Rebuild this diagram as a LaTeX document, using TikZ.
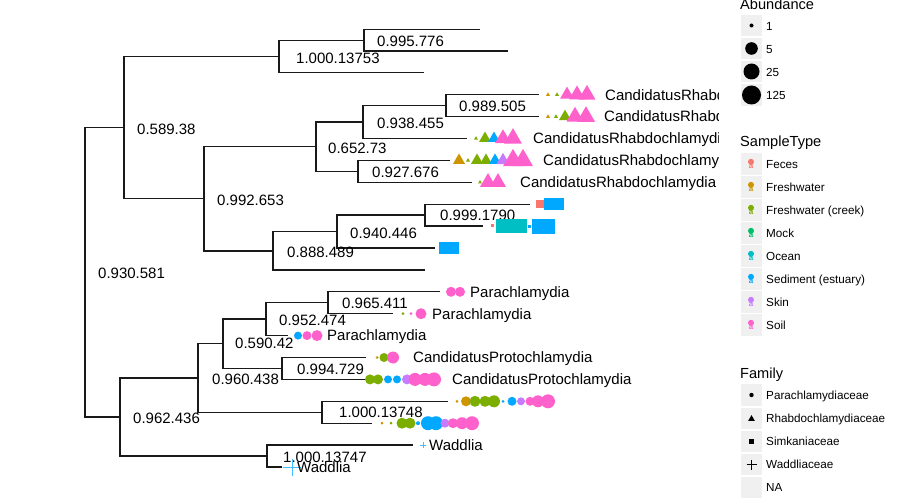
\documentclass[tikz,border=0pt]{standalone}
\usepackage{fontspec}
\setmainfont{Liberation Sans}
\definecolor{cFec}{HTML}{F8766D}
\definecolor{cFre}{HTML}{CD9600}
\definecolor{cCre}{HTML}{7CAE00}
\definecolor{cMoc}{HTML}{00BE67}
\definecolor{cOce}{HTML}{00BFC4}
\definecolor{cSed}{HTML}{00A9FF}
\definecolor{cSki}{HTML}{C77CFF}
\definecolor{cSoi}{HTML}{FF61CC}
\definecolor{keygrey}{HTML}{F0F0F0}
\newcommand\cpt[4]{\fill[#4] (#1,#2) circle[radius=#3];}
\newcommand\tpt[4]{\fill[#4] ({#1-#3},{#2+0.577*#3}) -- ({#1+#3},{#2+0.577*#3}) -- (#1,{#2-1.155*#3}) -- cycle;}
\newcommand\spt[4]{\fill[#4] ({#1-#3},{#2-#3}) rectangle ({#1+#3},{#2+#3});}
\newcommand\skey[2]{\fill[keygrey] (741,{#1-11}) rectangle (762,{#1+11});
  \fill[#2] (751,{#1-2.2}) circle[radius=3];
  \node[text=#2, inner sep=0pt, font=\fontsize{8}{8}\selectfont\bfseries] at (751,{#1+2}) {a};}
\begin{document}
\begin{tikzpicture}[x=1pt,y=-1pt,
  edge/.style={line width=1.3pt, black!90},
  blab/.style={anchor=west, inner sep=0pt, font=\fontsize{15}{18}\selectfont, text height=10.7pt, text depth=0pt},
  tlab/.style={blab},
  ltitle/.style={anchor=base west, inner sep=0pt, font=\fontsize{14.6}{17}\selectfont},
  ltext/.style={anchor=west, inner sep=0pt, font=\fontsize{11.7}{14}\selectfont, text height=8.4pt, text depth=0pt},
  keybox/.style={fill=keygrey},
  cross/.style={line width=0.9pt, cSed!75}
]
\useasboundingbox (0,0) rectangle (900,500);
\fill[white] (0,0) rectangle (900,500);

% ---------- tree nodes ----------
\coordinate (R) at (85,272);
\coordinate (A) at (124,127.5);
\coordinate (T) at (279,56.5);
\coordinate (T1) at (364,40.5);
\coordinate (t1) at (480,29.5);
\coordinate (t2) at (508,50.9);
\coordinate (t3) at (424,72.8);
\coordinate (B) at (204,198.5);
\coordinate (C) at (316,146.5);
\coordinate (D) at (363,122);
\coordinate (E) at (446,105.6);
\coordinate (r1) at (539,94.7);
\coordinate (r2) at (539,116.6);
\coordinate (r3) at (467,138.5);
\coordinate (F) at (358,171.3);
\coordinate (r4) at (450,160.4);
\coordinate (r5) at (472,182.3);
\coordinate (G) at (273,251);
\coordinate (H) at (337,231.6);
\coordinate (I) at (425,215.1);
\coordinate (s1) at (530,204.2);
\coordinate (s2) at (483,226.1);
\coordinate (s3) at (435,248);
\coordinate (s4) at (425,269.9);
\coordinate (J) at (120,417);
\coordinate (K) at (198,378);
\coordinate (L) at (223,343.5);
\coordinate (M) at (266,319);
\coordinate (N) at (328,302.7);
\coordinate (p1) at (440,291.8);
\coordinate (p2) at (393,313.7);
\coordinate (p3) at (288,335.6);
\coordinate (O) at (282,368.4);
\coordinate (q1) at (366,357.5);
\coordinate (q2) at (366,379.4);
\coordinate (P) at (322,412.3);
\coordinate (u1) at (448,401.3);
\coordinate (u2) at (372,423.2);
\coordinate (Q) at (267,456);
\coordinate (w1) at (413,445.1);
\coordinate (w2) at (282,467);

\begin{scope}
\clip (0,0) rectangle (718,500);
% ---------- edges ----------
\foreach \p/\c in {R/A,R/J,A/T,A/B,T/T1,T/t3,T1/t1,T1/t2,B/C,B/G,C/D,C/F,D/E,D/r3,E/r1,E/r2,F/r4,F/r5,
  G/H,G/s4,H/I,H/s3,I/s1,I/s2,J/K,J/Q,K/L,K/P,L/M,L/O,M/N,M/p3,N/p1,N/p2,O/q1,O/q2,P/u1,P/u2,Q/w1,Q/w2}
  \draw[edge] (\p) |- (\c);

% ---------- branch labels ----------
\node[blab] (lT1) at (377,41) {0.995.776};
\node[blab] (lT) at (296,58) {1.000.13753};
\node[blab] (lA) at (137,129) {0.589.38};
\node[blab] (lB) at (217,200) {0.992.653};
\node[blab] (lC) at (328,148) {0.652.73};
\node[blab] (lD) at (377,123) {0.938.455};
\node[blab] (lE) at (459,106) {0.989.505};
\node[blab] (lF) at (372,172) {0.927.676};
\node[blab] (lG) at (287,252) {0.888.489};
\node[blab] (lH) at (350,233) {0.940.446};
\node[blab] (lI) at (440,215) {0.999.1790};
\node[blab] (lR) at (98,273) {0.930.581};
\node[blab] (lJ) at (133,418) {0.962.436};
\node[blab] (lK) at (212,379) {0.960.438};
\node[blab] (lL) at (235,343) {0.590.42};
\node[blab] (lM) at (279,320) {0.952.474};
\node[blab] (lN) at (342,303) {0.965.411};
\node[blab] (lO) at (297,369) {0.994.729};
\node[blab] (lP) at (339,412) {1.000.13748};
\node[blab] (lQ) at (283,457) {1.000.13747};

% ---------- tip points: Rhabdochlamydiaceae ----------
\tpt{548}{94.7}{2}{cFre}\tpt{557}{94.7}{2}{cCre}
\tpt{567}{94.7}{7}{cSoi}\tpt{577}{94.7}{8}{cSoi}\tpt{587}{94.7}{8.5}{cSoi}
\tpt{548}{116.6}{2}{cFre}\tpt{556}{116.6}{2}{cCre}\tpt{565}{116.6}{6}{cCre}
\tpt{575}{116.6}{8.5}{cSoi}\tpt{586}{116.6}{9}{cSoi}
\tpt{476}{138.5}{2}{cCre}\tpt{485}{138.5}{6}{cCre}\tpt{494}{138.5}{6}{cSed}
\tpt{503}{138.5}{8}{cSoi}\tpt{513}{138.5}{9}{cSoi}
\tpt{459}{160.4}{6}{cFre}\tpt{468}{160.4}{2}{cCre}\tpt{477}{160.4}{6}{cCre}\tpt{486}{160.4}{6}{cCre}
\tpt{495}{160.4}{6}{cSed}\tpt{503}{160.4}{6.5}{cSki}\tpt{513}{160.4}{10}{cSoi}\tpt{523}{160.4}{10}{cSoi}
\tpt{480}{182.3}{2}{cCre}\tpt{488}{182.3}{8}{cSoi}\tpt{498}{182.3}{8}{cSoi}

% ---------- tip points: Simkaniaceae ----------
\spt{540}{204.2}{4}{cFec}\spt{550}{204.2}{6}{cSed}\spt{558}{204.2}{6}{cSed}
\spt{492}{225}{1.5}{cFec}\spt{503}{226.1}{7}{cOce}\spt{512}{226.1}{7}{cOce}\spt{520}{226.1}{7}{cOce}
\spt{529}{226.1}{1.5}{cSed}\spt{539}{226.1}{7.5}{cSed}\spt{547}{226.1}{7.5}{cSed}
\spt{445}{248}{6}{cSed}\spt{453}{248}{6}{cSed}

% ---------- tip points: Parachlamydiaceae ----------
\cpt{451}{291.8}{5}{cSoi}\cpt{460}{291.8}{5}{cSoi}
\cpt{403}{313.7}{1.5}{cCre}\cpt{411}{313.7}{1.5}{cSoi}\cpt{421}{313.7}{5.5}{cSoi}
\cpt{298}{335.6}{4}{cSed}\cpt{307}{335.6}{4.5}{cSoi}\cpt{317}{335.6}{5.5}{cSoi}
\cpt{377}{357.5}{1.5}{cFre}\cpt{384}{357.5}{4.5}{cCre}\cpt{393}{357.5}{6}{cSoi}
\cpt{370}{379.4}{5}{cCre}\cpt{378}{379.4}{5}{cCre}\cpt{388}{379.4}{4}{cSed}\cpt{397}{379.4}{4}{cSed}
\cpt{407}{379.4}{5}{cSki}\cpt{415}{379.4}{6.5}{cSoi}\cpt{425}{379.4}{6.5}{cSoi}\cpt{434}{379.4}{7}{cSoi}
\cpt{457}{401.3}{1.5}{cFre}\cpt{466}{401.3}{5}{cFre}\cpt{475}{401.3}{5.5}{cCre}\cpt{485}{401.3}{5.5}{cCre}
\cpt{494}{401.3}{6}{cCre}\cpt{503}{401.3}{1.5}{cSed}\cpt{512}{401.3}{4.5}{cSed}\cpt{521}{401.3}{4}{cSki}
\cpt{530}{401.3}{4.5}{cSoi}\cpt{538}{401.3}{6}{cSoi}\cpt{548}{401.3}{7}{cSoi}
\cpt{382}{423.2}{1.5}{cFre}\cpt{391}{423.2}{1.5}{cCre}\cpt{402}{423.2}{5.5}{cCre}\cpt{410}{423.2}{5.5}{cCre}
\cpt{418}{423.2}{2}{cSed}\cpt{428}{423.2}{7}{cSed}\cpt{436}{423.2}{7}{cSed}\cpt{445}{423.2}{4.5}{cSki}
\cpt{453}{423.2}{5}{cSoi}\cpt{462}{423.2}{6}{cSoi}\cpt{472}{423.2}{7}{cSoi}

% ---------- tip points: Waddliaceae ----------
\draw[cross] (420,445.1) -- (426,445.1) (423,442.1) -- (423,448.1);
\draw[cross] (283,467) -- (301,467) (292,458.5) -- (292,475.5);

% ---------- tip labels ----------
\node[tlab] (Lr1) at (605,94.7) {CandidatusRhabdochlamydia};
\node[tlab] (Lr2) at (604,116.6) {CandidatusRhabdochlamydia};
\node[tlab] (Lr3) at (533,138.5) {CandidatusRhabdochlamydia};
\node[tlab] (Lr4) at (543,160.4) {CandidatusRhabdochlamydia};
\node[tlab] (Lr5) at (520,182.3) {CandidatusRhabdochlamydia};
\node[tlab] (Lp1) at (470,291.8) {Parachlamydia};
\node[tlab] (Lp2) at (432,313.7) {Parachlamydia};
\node[tlab] (Lp3) at (327,335.6) {Parachlamydia};
\node[tlab] (Lq1) at (413,357.5) {CandidatusProtochlamydia};
\node[tlab] (Lq2) at (452,379.4) {CandidatusProtochlamydia};
\node[tlab] (Lw1) at (429,445.1) {Waddlia};
\node[tlab] (Lw2) at (297,467) {Waddlia};
\end{scope}

% ---------- legend: Abundance ----------
\node[ltitle] (tAb) at (740,9.5) {Abundance};
\fill[keybox] (741,15) rectangle (762,36);
\fill[keybox] (741,38) rectangle (762,59);
\fill[keybox] (741,61) rectangle (762,82);
\fill[keybox] (741,84) rectangle (762,106);
\fill[black] (751.5,25.5) circle[radius=2];
\fill[black] (751.5,48.5) circle[radius=6.3];
\fill[black] (751.5,71.5) circle[radius=8];
\fill[black] (751.5,95) circle[radius=9.5];
\node[ltext] (a1) at (766,26) {1};
\node[ltext] (a2) at (766,49) {5};
\node[ltext] (a3) at (766,72) {25};
\node[ltext] (a4) at (766,95) {125};

% ---------- legend: SampleType ----------
\node[ltitle] (tST) at (740,146.5) {SampleType};
\skey{164}{cFec}
\skey{187}{cFre}
\skey{210}{cCre}
\skey{233}{cMoc}
\skey{256}{cOce}
\skey{279}{cSed}
\skey{302}{cSki}
\skey{325}{cSoi}
\node[ltext] (k1) at (766,164.5) {Feces};
\node[ltext] (k2) at (766,187.5) {Freshwater};
\node[ltext] (k3) at (766,210.5) {Freshwater (creek)};
\node[ltext] (k4) at (766,233.5) {Mock};
\node[ltext] (k5) at (766,256.5) {Ocean};
\node[ltext] (k6) at (766,279.5) {Sediment (estuary)};
\node[ltext] (k7) at (766,302.5) {Skin};
\node[ltext] (k8) at (766,325.5) {Soil};

% ---------- legend: Family ----------
\node[ltitle] (tFa) at (740,378.5) {Family};
\fill[keybox] (741,384) rectangle (762,406);
\fill[keybox] (741,408) rectangle (762,429);
\fill[keybox] (741,431) rectangle (762,452);
\fill[keybox] (741,454) rectangle (762,475);
\fill[keybox] (741,477) rectangle (762,498);
\fill[black] (751.5,395) circle[radius=2.2];
\tpt{751.5}{419}{3.4}{black}
\spt{751.5}{441.5}{2.8}{black}
\draw[black, line width=0.8pt] (746.5,464.5) -- (756.5,464.5) (751.5,459.5) -- (751.5,469.5);
\node[ltext] (f1) at (766,395) {Parachlamydiaceae};
\node[ltext] (f2) at (766,418.5) {Rhabdochlamydiaceae};
\node[ltext] (f3) at (766,441.5) {Simkaniaceae};
\node[ltext] (f4) at (766,464.5) {Waddliaceae};
\node[ltext] (f5) at (766,487.5) {NA};
\end{tikzpicture}
\end{document}
